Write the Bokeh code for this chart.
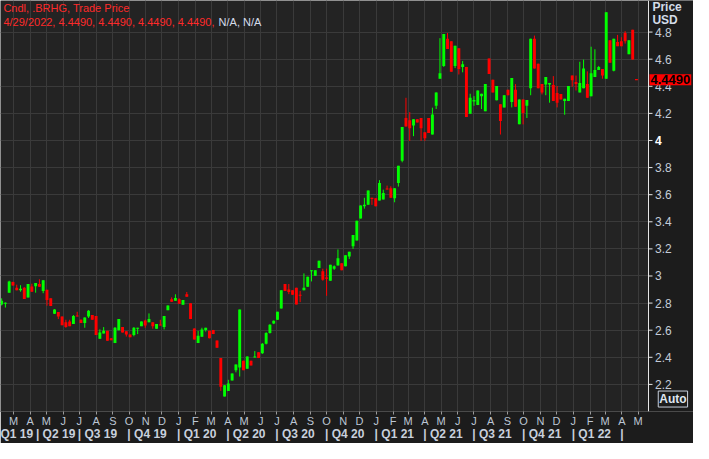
import pandas as pd
from bokeh.plotting import figure
from bokeh.models import (ColumnDataSource, Range1d, FixedTicker, LinearAxis, Label,
                          BoxAnnotation, Span, AllLabels)
from bokeh.core.properties import value
from bokeh.embed import file_html
from bokeh.resources import INLINE

# ---------------- data ----------------
weeks = pd.date_range("2019-02-08", "2022-04-29", freq="W-FRI")

opens = [2.790, 2.797, 2.877, 2.955, 2.913, 2.894, 2.913, 2.842, 2.922, 2.924,
         2.941, 2.889, 2.898, 2.835, 2.722, 2.734, 2.701, 2.658, 2.665, 2.646,
         2.708, 2.677, 2.653, 2.701, 2.712, 2.705, 2.536, 2.576, 2.595, 2.540,
         2.505, 2.599, 2.623, 2.592, 2.569, 2.564, 2.611, 2.630, 2.672, 2.658,
         2.658, 2.611, 2.642, 2.623, 2.748, 2.828, 2.818, 2.828, 2.788, 2.865,
         2.799, 2.613, 2.505, 2.552, 2.602, 2.595, 2.602, 2.524, 2.394, 2.111,
         2.152, 2.229, 2.305, 2.324, 2.375, 2.316, 2.375, 2.399, 2.437, 2.430,
         2.500, 2.580, 2.649, 2.677, 2.760, 2.941, 2.901, 2.894, 2.913, 2.861,
         2.894, 2.920, 3.035, 3.002, 3.059, 3.035, 2.988, 2.965, 3.054, 3.078,
         3.094, 3.071, 3.144, 3.219, 3.262, 3.424, 3.514, 3.525, 3.577, 3.573,
         3.558, 3.565, 3.645, 3.648, 3.573, 3.686, 3.850, 4.166, 4.150, 4.110,
         4.157, 4.166, 4.060, 4.166, 4.044, 4.256, 4.456, 4.550, 4.751, 4.732,
         4.550, 4.680, 4.543, 4.543, 4.197, 4.287, 4.261, 4.327, 4.216, 4.605,
         4.449, 4.296, 4.268, 4.244, 4.374, 4.284, 4.374, 4.120, 4.303, 4.256,
         4.385, 4.751, 4.567, 4.416, 4.414, 4.414, 4.409, 4.350, 4.343, 4.291,
         4.291, 4.479, 4.432, 4.355, 4.385, 4.416, 4.326, 4.468, 4.520, 4.527,
         4.456, 4.739, 4.515, 4.727, 4.732, 4.793, 4.637, 4.817, 4.449]

highs = [2.835, 2.805, 2.965, 2.958, 2.936, 2.932, 2.918, 2.941, 2.943, 2.948,
         2.976, 2.969, 2.898, 2.835, 2.755, 2.734, 2.701, 2.677, 2.677, 2.712,
         2.736, 2.680, 2.694, 2.748, 2.712, 2.705, 2.606, 2.623, 2.595, 2.542,
         2.623, 2.682, 2.623, 2.592, 2.569, 2.623, 2.618, 2.665, 2.677, 2.724,
         2.658, 2.646, 2.677, 2.705, 2.783, 2.842, 2.865, 2.835, 2.823, 2.882,
         2.799, 2.613, 2.595, 2.618, 2.618, 2.595, 2.602, 2.524, 2.394, 2.194,
         2.234, 2.281, 2.347, 2.752, 2.375, 2.406, 2.375, 2.446, 2.437, 2.505,
         2.585, 2.645, 2.672, 2.736, 2.894, 2.941, 2.941, 2.894, 2.913, 2.889,
         3.019, 2.995, 3.042, 3.042, 3.113, 3.054, 3.054, 3.083, 3.078, 3.196,
         3.094, 3.153, 3.179, 3.302, 3.408, 3.521, 3.577, 3.631, 3.577, 3.573,
         3.707, 3.637, 3.667, 3.662, 3.648, 3.813, 4.100, 4.315, 4.209, 4.157,
         4.157, 4.166, 4.060, 4.166, 4.242, 4.355, 4.755, 4.786, 4.793, 4.732,
         4.699, 4.680, 4.586, 4.543, 4.345, 4.327, 4.369, 4.345, 4.416, 4.605,
         4.449, 4.402, 4.268, 4.334, 4.374, 4.461, 4.416, 4.303, 4.303, 4.298,
         4.751, 4.774, 4.567, 4.416, 4.468, 4.425, 4.475, 4.402, 4.343, 4.308,
         4.402, 4.479, 4.479, 4.581, 4.597, 4.510, 4.692, 4.673, 4.550, 4.527,
         4.946, 4.739, 4.751, 4.779, 4.762, 4.807, 4.739, 4.817, 4.449]

lows = [2.783, 2.767, 2.877, 2.929, 2.894, 2.884, 2.830, 2.842, 2.884, 2.877,
        2.920, 2.873, 2.781, 2.778, 2.720, 2.682, 2.637, 2.618, 2.630, 2.646,
        2.701, 2.653, 2.618, 2.690, 2.677, 2.564, 2.536, 2.576, 2.522, 2.526,
        2.505, 2.599, 2.583, 2.553, 2.548, 2.555, 2.571, 2.630, 2.618, 2.658,
        2.611, 2.611, 2.635, 2.606, 2.748, 2.809, 2.818, 2.795, 2.788, 2.846,
        2.682, 2.531, 2.505, 2.552, 2.590, 2.540, 2.571, 2.470, 2.152, 2.111,
        2.152, 2.229, 2.289, 2.258, 2.305, 2.316, 2.340, 2.399, 2.394, 2.425,
        2.495, 2.575, 2.645, 2.677, 2.760, 2.889, 2.866, 2.861, 2.790, 2.807,
        2.894, 2.920, 2.960, 3.002, 3.059, 2.965, 2.854, 2.965, 3.045, 3.078,
        3.042, 3.071, 3.125, 3.200, 3.262, 3.424, 3.497, 3.525, 3.525, 3.514,
        3.558, 3.565, 3.638, 3.577, 3.544, 3.660, 3.839, 4.103, 3.997, 4.032,
        4.133, 3.997, 3.997, 4.056, 4.044, 4.232, 4.456, 4.543, 4.675, 4.508,
        4.534, 4.487, 4.503, 4.173, 4.197, 4.256, 4.261, 4.232, 4.216, 4.491,
        4.355, 4.296, 4.044, 4.244, 4.334, 4.244, 4.249, 4.120, 4.119, 4.166,
        4.334, 4.531, 4.385, 4.340, 4.334, 4.279, 4.291, 4.244, 4.303, 4.190,
        4.291, 4.397, 4.369, 4.355, 4.385, 4.315, 4.326, 4.468, 4.520, 4.456,
        4.456, 4.574, 4.510, 4.696, 4.696, 4.715, 4.637, 4.597, 4.449]

closes = [2.818, 2.800, 2.960, 2.929, 2.894, 2.906, 2.830, 2.941, 2.884, 2.948,
          2.920, 2.969, 2.823, 2.778, 2.752, 2.701, 2.637, 2.623, 2.630, 2.705,
          2.701, 2.653, 2.694, 2.743, 2.677, 2.564, 2.583, 2.595, 2.522, 2.526,
          2.618, 2.682, 2.583, 2.569, 2.548, 2.618, 2.618, 2.665, 2.635, 2.682,
          2.630, 2.646, 2.635, 2.705, 2.783, 2.809, 2.837, 2.795, 2.823, 2.846,
          2.682, 2.531, 2.559, 2.606, 2.618, 2.540, 2.571, 2.470, 2.182, 2.194,
          2.206, 2.281, 2.347, 2.752, 2.305, 2.406, 2.340, 2.406, 2.394, 2.500,
          2.580, 2.640, 2.670, 2.736, 2.894, 2.889, 2.882, 2.861, 2.790, 2.854,
          2.913, 2.995, 3.042, 3.042, 3.113, 2.972, 2.979, 3.083, 3.071, 3.130,
          3.042, 3.153, 3.179, 3.302, 3.408, 3.521, 3.525, 3.631, 3.568, 3.514,
          3.686, 3.613, 3.638, 3.577, 3.648, 3.813, 4.100, 4.103, 4.091, 4.157,
          4.133, 4.091, 4.016, 4.056, 4.192, 4.355, 4.496, 4.786, 4.675, 4.508,
          4.699, 4.527, 4.562, 4.173, 4.315, 4.298, 4.369, 4.345, 4.416, 4.491,
          4.355, 4.402, 4.143, 4.334, 4.334, 4.461, 4.249, 4.303, 4.202, 4.298,
          4.751, 4.531, 4.385, 4.355, 4.468, 4.425, 4.291, 4.279, 4.303, 4.308,
          4.402, 4.444, 4.416, 4.425, 4.531, 4.315, 4.496, 4.520, 4.543, 4.480,
          4.946, 4.574, 4.751, 4.696, 4.696, 4.732, 4.739, 4.597, 4.449]

price_ticks = [2.2, 2.4, 2.6, 2.8, 3.0, 3.2, 3.4, 3.6, 3.8, 4.0, 4.2, 4.4, 4.6, 4.8]
month_letters = ["J", "F", "M", "A", "M", "J", "J", "A", "S", "O", "N", "D"]
quarter_names = ["Q1 19", "Q2 19", "Q3 19", "Q4 19", "Q1 20", "Q2 20", "Q3 20",
                 "Q4 20", "Q1 21", "Q2 21", "Q3 21", "Q4 21", "Q1 22"]
last_date = "4/29/2022"
last_price = 4.449

# ---------------- layout helpers (reference-pixel -> data) ----------------
X0 = pd.Timestamp("2019-02-04 22:00")
X1 = pd.Timestamp("2022-05-20 07:00")   # position of the price-axis line
Y0, Y1 = 2.0, 5.033
x0ms = X0.value / 1e6
x1ms = X1.value / 1e6
REF_AXIS = 664.0


def rx(px):
    return x0ms + px / REF_AXIS * (x1ms - x0ms)


def ry(py):
    return Y1 - py / 429.0 * (Y1 - Y0)


W, H = 693, 443
AXIS_PX = 648.0
x_end = rx(REF_AXIS * W / AXIS_PX)
DAY_MS = 86400000

UP = "#00ff00"
DN = "#ff0000"
FONT = "Liberation Sans"
BORDER = "#1c1c1c"

xs = weeks - pd.Timedelta(days=1)
tops, bots, cols = [], [], []
for o, c in zip(opens, closes):
    t, b = max(o, c), min(o, c)
    if t - b < 0.008:
        m = (t + b) / 2
        t, b = m + 0.004, m - 0.004
    tops.append(t)
    bots.append(b)
    cols.append(UP if c > o else DN)

src = ColumnDataSource(dict(x=xs, top=tops, bottom=bots, high=highs, low=lows, color=cols))

p = figure(width=W, height=H, x_axis_type="datetime", y_axis_location=None,
           output_backend="svg", toolbar_location=None,
           x_range=Range1d(x0ms, x_end), y_range=Range1d(Y0, Y1),
           min_border_left=0, min_border_top=0, min_border_right=0, min_border_bottom=28)
p.background_fill_color = "#232323"
p.border_fill_color = BORDER
p.outline_line_color = None

# grid
p.xgrid.grid_line_color = "#3a3a3a"
p.ygrid.grid_line_color = "#3a3a3a"
p.ygrid.ticker = FixedTicker(ticks=price_ticks)

# right price panel background (covers grid there)
p.add_layout(BoxAnnotation(left=x1ms, fill_color=BORDER, fill_alpha=1.0,
                           line_color=None, level="underlay"))

# candles
p.segment(x0="x", y0="low", x1="x", y1="high", color="color", line_width=1, source=src)
p.vbar(x="x", width=5.4 * DAY_MS, top="top", bottom="bottom", fill_color="color",
       line_color=None, source=src)

# price axis at the right edge of the chart area
ms_per_px = (x1ms - x0ms) / AXIS_PX
p.add_layout(Span(location=x1ms, dimension="height", line_color="#e6e6e6", line_width=1))
p.segment(x0=[x1ms] * len(price_ticks), x1=[x1ms + 4 * ms_per_px] * len(price_ticks),
          y0=price_ticks, y1=price_ticks, line_color="#e6e6e6", line_width=1)
tick_txt = ["" if t == 4.0 else ("%g" % t) for t in price_ticks]
p.text(x=[x1ms + 6.5 * ms_per_px] * len(price_ticks), y=price_ticks, text=tick_txt,
       text_font=value(FONT), text_font_size=value("12px"), text_color="#c4ccd8",
       text_baseline="middle", text_align="left")
p.text(x=[x1ms + 6.5 * ms_per_px], y=[4.0], text=["4"], text_font=value(FONT),
       text_font_size=value("12px"), text_font_style="bold", text_color="#ffffff",
       text_baseline="middle", text_align="left")

# month axis
month_starts = pd.date_range("2019-02-01", "2022-05-01", freq="MS")
month_ms = [d.value / 1e6 for d in month_starts]
xa = p.xaxis[0]
xa.ticker = FixedTicker(ticks=month_ms)
xa.major_label_overrides = {int(m): month_letters[d.month - 1] for m, d in zip(month_ms, month_starts)}
xa.major_label_policy = AllLabels()
xa.axis_line_color = "#4a4a4a"
xa.major_tick_line_color = "#9a9a9a"
xa.major_tick_out = 3
xa.major_tick_in = 0
xa.minor_tick_line_color = None
xa.major_label_standoff = 0
xa.major_label_text_color = "#bcc6d4"
xa.major_label_text_font = FONT
xa.major_label_text_font_size = "11px"

# quarter axis: each label carries its leading separator "|"
q_starts = pd.date_range("2019-01-01", "2022-04-01", freq="QS")
q_ticks, q_over = [], {}
for i, qs in enumerate(q_starts):
    if i == 0:
        t = float(int(rx(15)))
        txt = quarter_names[0]
    else:
        bound = rx(38) if i == 1 else qs.value / 1e6
        if i < len(quarter_names):
            t = float(int(bound + 19.7 * ms_per_px))
            txt = "|  " + quarter_names[i]
        else:
            t = float(int(bound))
            txt = "|"
    q_ticks.append(t)
    q_over[int(t)] = txt
qa = LinearAxis(ticker=FixedTicker(ticks=q_ticks), major_label_overrides=q_over,
                major_label_policy=AllLabels())
qa.axis_line_color = None
qa.major_tick_line_color = None
qa.minor_tick_line_color = None
qa.major_tick_out = 0
qa.major_tick_in = 0
qa.major_label_standoff = -3
qa.major_label_text_color = "#c8d0dc"
qa.major_label_text_font = FONT
qa.major_label_text_font_size = "12px"
qa.major_label_text_font_style = "bold"
p.add_layout(qa, "below")


def lab(x, y, text, color, size="12px", style="normal", align="left", **kw):
    l = Label(x=x, y=y, text=text, text_color=color, text_font=FONT,
              text_font_size=size, text_font_style=style, text_align=align,
              text_baseline="middle", **kw)
    p.add_layout(l)
    return l


# header texts
lab(rx(3), ry(8), "Cndl, .BRHG, Trade Price", "#ff2a2a", size="11px")
lab(rx(3), ry(22), "%s, %.4f, %.4f, %.4f, %.4f," % (last_date, opens[-1], highs[-1], lows[-1], closes[-1]),
    "#ff2a2a", size="11px")
lab(rx(223.5), ry(22), "N/A, N/A", "#d4dcea", size="11px")

# right-side texts
lab(rx(668), ry(6.5), "Price", "#d4dce8", style="bold")
lab(rx(668), ry(20.5), "USD", "#d4dce8", style="bold")
lab(rx(665), last_price, "%.4f" % last_price, "#000000", size="13px", style="bold",
    background_fill_color="#ff0000", padding=1)
lab(rx(674), ry(416), "Auto", "#dfe6f0", style="bold",
    border_line_color="#c8d0dc", background_fill_color=BORDER, padding=1)

open("out.html", "w").write(file_html(p, INLINE))
